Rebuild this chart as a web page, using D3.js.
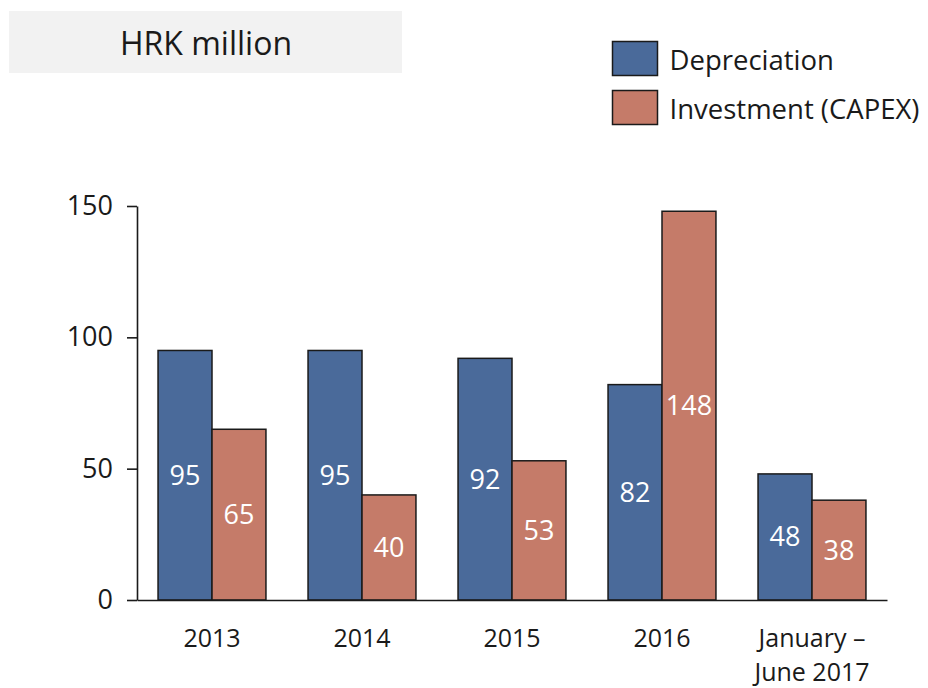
<!DOCTYPE html>
<html>
<head>
<meta charset="utf-8">
<script src="https://cdn.jsdelivr.net/npm/d3@7"></script>
<style>
  html, body { margin: 0; padding: 0; background: #fff; }
  svg { display: block; font-family: "Open Sans", "Noto Sans", sans-serif; }
</style>
</head>
<body>
<svg id="chart" width="928" height="688"></svg>
<script>
const categories = [["2013"], ["2014"], ["2015"], ["2016"], ["January –", "June 2017"]];
const seriesNames = ["Depreciation", "Investment (CAPEX)"];
const depreciation = [95, 95, 92, 82, 48];
const capex = [65, 40, 53, 148, 38];
const yTicks = [0, 50, 100, 150];
const colors = ["#4a6a9a", "#c57b69"];
const title = "HRK million";

const svg = d3.select("#chart");
const catKeys = categories.map(c => c.join(" "));
const seriesValues = [depreciation, capex];

const x0 = d3.scaleBand().domain(catKeys).range([137, 887]).padding(0);
const x1 = d3.scaleBand().domain(seriesNames).range([0, x0.bandwidth()]).paddingInner(0).paddingOuter(0.39);
const y = d3.scaleLinear().domain([0, 150]).range([600, 206]);
const color = d3.scaleOrdinal().domain(seriesNames).range(colors);

// Title box
svg.append("rect").attr("x", 9).attr("y", 11).attr("width", 393).attr("height", 62).attr("fill", "#f2f2f2");
svg.append("text").attr("x", 206).attr("y", 55).attr("text-anchor", "middle")
  .attr("font-size", 32).attr("fill", "#1a1a1a").text(title);

// Legend
const legend = svg.append("g");
seriesNames.forEach((s, i) => {
  const g = legend.append("g").attr("transform", `translate(612.5, ${41.5 + i * 49})`);
  g.append("rect").attr("width", 45).attr("height", 34).attr("fill", color(s))
    .attr("stroke", "#1a1a1a").attr("stroke-width", 1.5);
  g.append("text").attr("x", 57).attr("y", 28).attr("font-size", 27.5).attr("fill", "#1a1a1a").text(s);
});

// Bars
const groups = svg.append("g").selectAll("g").data(catKeys).join("g")
  .attr("transform", d => `translate(${x0(d)},0)`);

groups.each(function(cat, ci) {
  const g = d3.select(this);
  seriesNames.forEach((s, si) => {
    const v = seriesValues[si][ci];
    g.append("rect")
      .attr("x", x1(s)).attr("y", y(v))
      .attr("width", x1.bandwidth()).attr("height", y(0) - y(v))
      .attr("fill", color(s)).attr("stroke", "#1a1a1a").attr("stroke-width", 1.5);
    g.append("text")
      .attr("x", x1(s) + x1.bandwidth() / 2)
      .attr("y", (y(v) + y(0)) / 2)
      .attr("dy", "0.35em")
      .attr("text-anchor", "middle").attr("font-size", 27).attr("fill", "#ffffff")
      .text(d3.format("d")(v));
  });
});

// Y axis
const yAxis = svg.append("g").attr("transform", "translate(137,0)")
  .call(d3.axisLeft(y).tickValues(yTicks).tickSize(10).tickSizeOuter(0).tickPadding(14));
yAxis.selectAll("path, line").attr("stroke", "#1a1a1a").attr("stroke-width", 1.6);
yAxis.selectAll("text").attr("font-size", 27).attr("fill", "#1a1a1a")
  .attr("font-family", "'Open Sans', 'Noto Sans', sans-serif");

// X axis
const xAxis = svg.append("g").attr("transform", "translate(0,600)")
  .call(d3.axisBottom(x0).tickSize(0).tickSizeOuter(0).tickPadding(0));
xAxis.select(".domain").attr("stroke", "#1a1a1a").attr("stroke-width", 1.6);
xAxis.selectAll(".tick text").remove();
xAxis.selectAll(".tick").each(function(d, i) {
  const t = d3.select(this).append("text").attr("text-anchor", "middle")
    .attr("font-size", 25).attr("fill", "#1a1a1a")
    .attr("font-family", "'Open Sans', 'Noto Sans', sans-serif");
  categories[i].forEach((line, li) => {
    t.append("tspan").attr("x", 0).attr("y", 47 + li * 34).text(line);
  });
});
</script>
</body>
</html>
